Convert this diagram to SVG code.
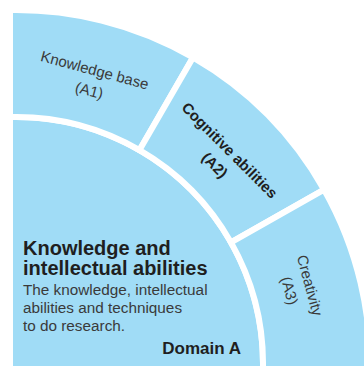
<svg xmlns="http://www.w3.org/2000/svg" width="364" height="366" viewBox="0 0 364 366">
  <style>
    .seg { fill: #a0dcf6; stroke: #ffffff; stroke-width: 6; stroke-linejoin: miter; }
    .lbl { font-family: "Liberation Sans", Arial, Helvetica, sans-serif; font-size: 15px; fill: #3a3a3a; text-anchor: middle; }
    .lblb { font-family: "Liberation Sans", Arial, Helvetica, sans-serif; font-size: 15px; font-weight: bold; fill: #1f1f1f; text-anchor: middle; }
    .head { font-family: "Liberation Sans", Arial, Helvetica, sans-serif; font-size: 20px; font-weight: bold; fill: #1f1f1f; }
    .body { font-family: "Liberation Sans", Arial, Helvetica, sans-serif; font-size: 15.3px; fill: #3a3a3a; }
    .dom { font-family: "Liberation Sans", Arial, Helvetica, sans-serif; font-size: 17px; font-weight: bold; fill: #1f1f1f; text-anchor: end; }
  </style>
  <defs>
    <clipPath id="clip">
      <rect x="13" y="0" width="351" height="366"/>
    </clipPath>
  </defs>
  <rect width="364" height="366" fill="#ffffff"/>
  <g clip-path="url(#clip)">
    <g id="domainA">
      <circle class="seg" cx="16" cy="364" r="247"/>
      <text class="head" x="23" y="255">Knowledge and</text>
      <text class="head" x="23" y="275">intellectual abilities</text>
      <text class="body" x="23" y="294.5">The knowledge, intellectual</text>
      <text class="body" x="23" y="312.5">abilities and techniques</text>
      <text class="body" x="23" y="330.5">to do research.</text>
      <text class="dom" x="241" y="353.5">Domain A</text>
    </g>
    <g id="A1">
      <path class="seg" d="M 3.65 10.22 A 354 354 0 0 1 193 57.43 L 139.5 150.09 A 247 247 0 0 0 7.38 117.15 Z"/>
      <text class="lbl" transform="rotate(15 16 364)" x="16" y="65">Knowledge base</text>
      <text class="lbl" transform="rotate(15 16 364)" x="16" y="86">(A1)</text>
    </g>
    <g id="A2">
      <path class="seg" d="M 193 57.43 A 354 354 0 0 1 324.11 189.68 L 230.98 242.37 A 247 247 0 0 0 139.5 150.09 Z"/>
      <text class="lblb" transform="rotate(45 16 364)" x="16" y="67">Cognitive abilities</text>
      <text class="lblb" transform="rotate(45 16 364)" x="16" y="88">(A2)</text>
    </g>
    <g id="A3">
      <path class="seg" d="M 324.11 189.68 A 354 354 0 0 1 369.51 382.53 L 262.66 376.93 A 247 247 0 0 0 230.98 242.37 Z"/>
      <text class="lbl" transform="rotate(75 16 364)" x="16" y="65">Creativity</text>
      <text class="lbl" transform="rotate(75 16 364)" x="16" y="86">(A3)</text>
    </g>
  </g>
  <g id="connectors"/>
</svg>
